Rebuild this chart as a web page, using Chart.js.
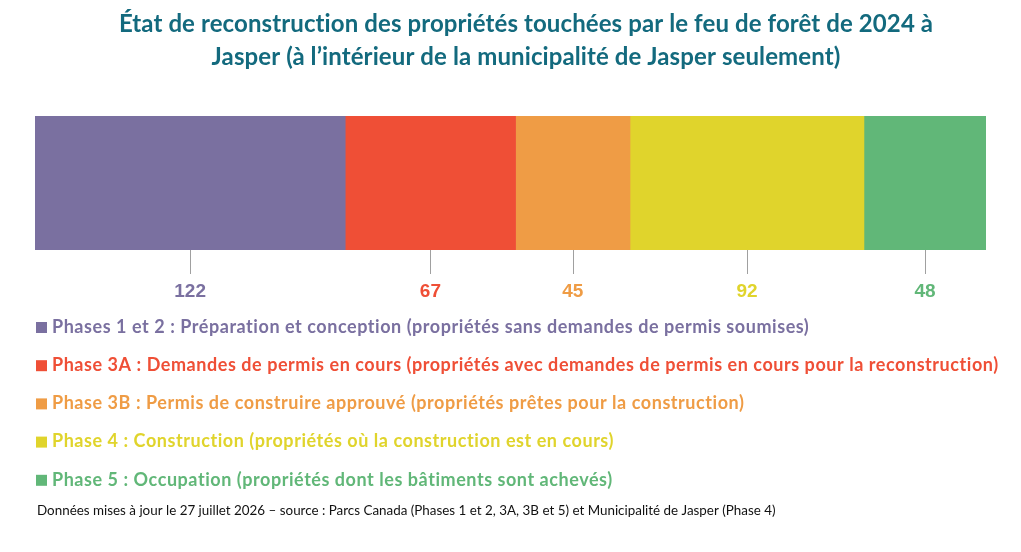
<!DOCTYPE html>
<html><head><meta charset="utf-8">
<script src="https://cdn.jsdelivr.net/npm/chart.js@4"></script>
<style>html,body{margin:0;padding:0;background:#fff}#wrap{width:1021px;height:552px;position:relative}</style>
</head><body><div id="wrap"><canvas id="c"></canvas></div>
<script>
const titleLines = ["État de reconstruction des propriétés touchées par le feu de forêt de 2024 à", "Jasper (à l’intérieur de la municipalité de Jasper seulement)"];
const categories = ["Propriétés"];
const phaseNames = [
  "Phases 1 et 2 : Préparation et conception (propriétés sans demandes de permis soumises)",
  "Phase 3A : Demandes de permis en cours (propriétés avec demandes de permis en cours pour la reconstruction)",
  "Phase 3B : Permis de construire approuvé (propriétés prêtes pour la construction)",
  "Phase 4 : Construction (propriétés où la construction est en cours)",
  "Phase 5 : Occupation (propriétés dont les bâtiments sont achevés)"
];
const phaseValues = [122, 67, 45, 92, 48];
const phaseColors = ["#7a70a0", "#ef4f36", "#ef9c45", "#e0d42c", "#61b778"];
const footnote = "Données mises à jour le 27 juillet 2026 – source : Parcs Canada (Phases 1 et 2, 3A, 3B et 5) et Municipalité de Jasper (Phase 4)";
const total = phaseValues.reduce((a, b) => a + b, 0);

const annot = {
  id: 'annot',
  afterDatasetsDraw(chart) {
    const ctx = chart.ctx, xs = chart.scales.x, area = chart.chartArea;
    ctx.save();
    // title
    ctx.fillStyle = '#136a7e';
    ctx.font = 'bold 24px Lato';
    ctx.letterSpacing = '0.1px';
    ctx.textAlign = 'center'; ctx.textBaseline = 'middle';
    ctx.fillText(titleLines[0], 526, 24);
    ctx.fillText(titleLines[1], 526, 57);
    ctx.letterSpacing = '0px';
    // ticks + values
    let cum = 0;
    phaseValues.forEach((v, i) => {
      const mid = xs.getPixelForValue(cum + v / 2);
      cum += v;
      ctx.strokeStyle = '#a0a0a0'; ctx.lineWidth = 1;
      ctx.beginPath(); ctx.moveTo(Math.round(mid) + 0.5, area.bottom); ctx.lineTo(Math.round(mid) + 0.5, area.bottom + 24); ctx.stroke();
      ctx.fillStyle = phaseColors[i];
      ctx.font = 'bold 19px "Liberation Sans"';
      ctx.textAlign = 'center'; ctx.textBaseline = 'middle';
      ctx.fillText(String(v), mid, area.bottom + 42);
    });
    // legend
    ctx.textAlign = 'left'; ctx.textBaseline = 'middle';
    phaseNames.forEach((n, i) => {
      const y = 327 + i * 38.2;
      ctx.fillStyle = phaseColors[i];
      ctx.fillRect(36, y - 5, 11, 11);
      ctx.font = 'bold 18px Lato';
      ctx.letterSpacing = '0.55px';
      ctx.fillText(n, 52, y);
    });
    ctx.letterSpacing = '0px';
    ctx.fillStyle = '#111';
    ctx.font = '13.4px Lato';
    ctx.fillText(footnote, 37, 511);
    ctx.restore();
  }
};

new Chart(document.getElementById('c'), {
  type: 'bar',
  data: {
    labels: categories,
    datasets: phaseNames.map((n, i) => ({
      label: n, data: [phaseValues[i]], backgroundColor: phaseColors[i], borderWidth: 0,
      categoryPercentage: 1, barPercentage: 1
    }))
  },
  options: {
    indexAxis: 'y', responsive: true, maintainAspectRatio: false, animation: false,
    layout: { padding: { left: 35, right: 35, top: 116, bottom: 302 } },
    plugins: { legend: { display: false }, title: { display: false }, tooltip: { enabled: false } },
    scales: {
      x: { stacked: true, display: false, min: 0, max: total },
      y: { stacked: true, display: false }
    }
  },
  plugins: [annot]
});
</script></body></html>
